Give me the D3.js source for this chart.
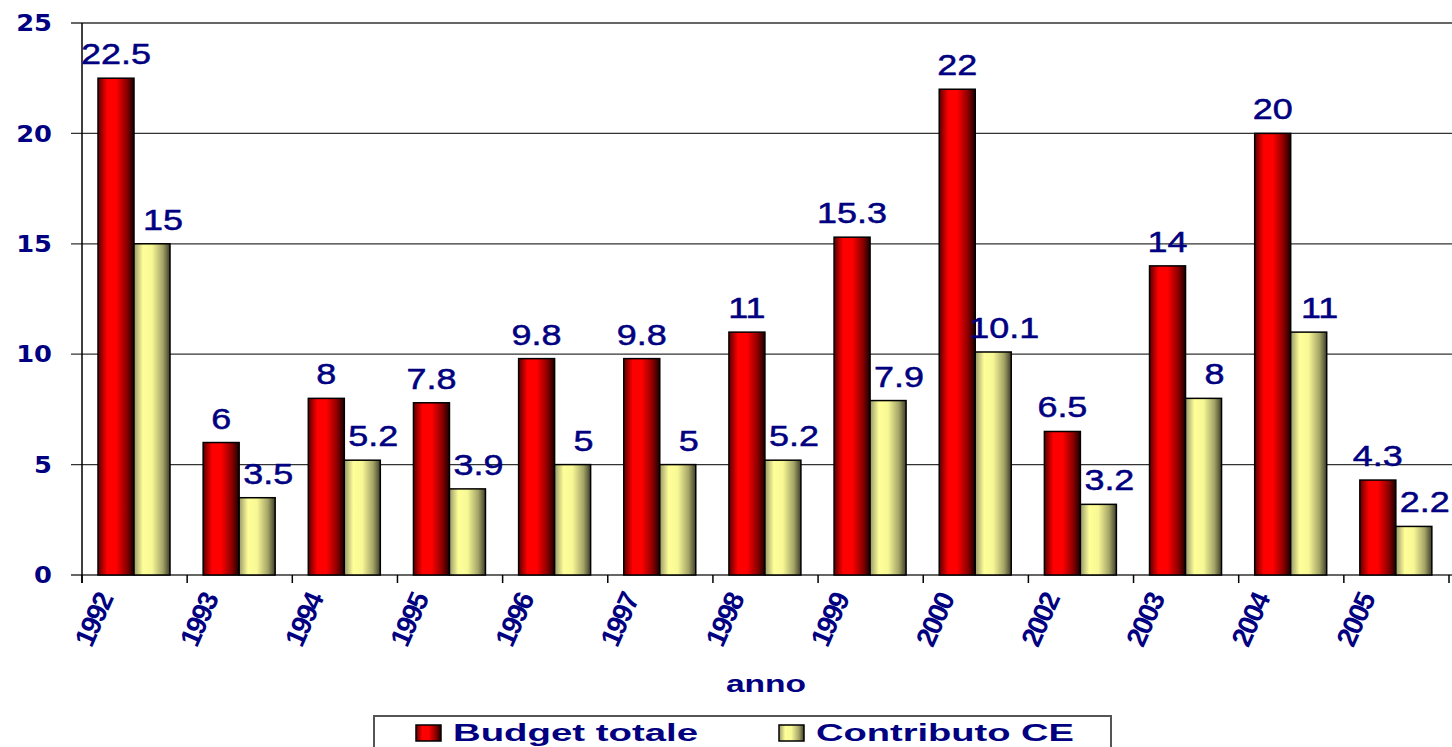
<!DOCTYPE html>
<html lang="it">
<head>
    <meta charset="UTF-8">
    <title>Budget totale e Contributo CE</title>
    <script src="https://d3js.org/d3.v7.min.js"></script>
    <style>
        body { margin: 0; background: #fff; }
        svg { display: block; }
        .lbl { fill: #000080; font-family: "Liberation Sans", Arial, sans-serif; }
    </style>
</head>
<body>
<svg width="1452" height="747"></svg>

<script>
    // data
    var years = ["1992", "1993", "1994", "1995", "1996", "1997", "1998", "1999", "2000", "2002", "2003", "2004", "2005"];
    var budgetTotale = [22.5, 6, 8, 7.8, 9.8, 9.8, 11, 15.3, 22, 6.5, 14, 20, 4.3];
    var contributoCE = [15, 3.5, 5.2, 3.9, 5, 5, 5.2, 7.9, 10.1, 3.2, 8, 11, 2.2];
    var seriesNames = ["Budget totale", "Contributo CE"];
    var yTicks = [0, 5, 10, 15, 20, 25];

    var svg = d3.select("svg");
    var navy = "#000080";

    var x = d3.scaleBand().domain(years).range([82, 1449]);
    var sub = d3.scaleBand().domain(seriesNames).range([16, 88]);
    var y = d3.scaleLinear().domain([0, 25]).range([575, 23]);

    // gradients for the cylinder-ish bars
    var defs = svg.append("defs");
    function grad(id, stops) {
        var g = defs.append("linearGradient").attr("id", id)
            .attr("x1", "0%").attr("x2", "100%").attr("y1", "0%").attr("y2", "0%");
        stops.forEach(function(s) {
            g.append("stop").attr("offset", s[0]).attr("stop-color", s[1]);
        });
    }
    grad("gRed", [["0%", "#5a0000"], ["25%", "#ff0000"], ["50%", "#ff0000"], ["80%", "#8a0000"], ["100%", "#1a0000"]]);
    grad("gYel", [["0%", "#9a9a6a"], ["25%", "#ffff99"], ["50%", "#f7f795"], ["80%", "#a4a468"], ["100%", "#3e3e28"]]);
    var fills = { "Budget totale": "url(#gRed)", "Contributo CE": "url(#gYel)" };

    // gridlines + y ticks
    svg.selectAll(".grid")
        .data(yTicks)
        .enter().append("line")
        .attr("x1", 71).attr("x2", 1452)
        .attr("y1", function(d) { return y(d); })
        .attr("y2", function(d) { return y(d); })
        .attr("stroke", "#333")
        .attr("stroke-width", 1.3);

    svg.selectAll(".ytick")
        .data(yTicks)
        .enter().append("text")
        .attr("transform", function(d) { return "translate(52," + y(d) + ") scale(1.12,1)"; })
        .attr("dy", "0.36em")
        .attr("text-anchor", "end")
        .attr("font-family", "DejaVu Sans, Verdana, sans-serif")
        .attr("font-weight", "bold")
        .attr("font-size", "23px")
        .attr("fill", navy)
        .text(function(d) { return d; });

    // y axis line
    svg.append("line")
        .attr("x1", 82).attr("x2", 82)
        .attr("y1", y(25)).attr("y2", y(0) + 8)
        .attr("stroke", "#000").attr("stroke-width", 1.5);

    // x ticks on category boundaries
    var bounds = years.map(function(d) { return x(d); }).concat([x.range()[1]]);
    svg.selectAll(".xtick")
        .data(bounds)
        .enter().append("line")
        .attr("x1", function(d) { return d; })
        .attr("x2", function(d) { return d; })
        .attr("y1", y(0)).attr("y2", y(0) + 8)
        .attr("stroke", "#000").attr("stroke-width", 1.5);

    // bars
    var rows = years.map(function(yr, i) {
        return { year: yr, vals: [
            { s: seriesNames[0], v: budgetTotale[i] },
            { s: seriesNames[1], v: contributoCE[i] }
        ] };
    });

    var grp = svg.selectAll(".yr")
        .data(rows)
        .enter().append("g")
        .attr("transform", function(d) { return "translate(" + x(d.year) + ",0)"; });

    grp.selectAll("rect")
        .data(function(d) { return d.vals; })
        .enter().append("rect")
        .attr("x", function(d) { return sub(d.s); })
        .attr("y", function(d) { return y(d.v); })
        .attr("width", sub.bandwidth())
        .attr("height", function(d) { return y(0) - y(d.v); })
        .attr("fill", function(d) { return fills[d.s]; })
        .attr("stroke", "#000")
        .attr("stroke-width", 1.5);

    // value labels
    grp.selectAll(".val")
        .data(function(d) { return d.vals; })
        .enter().append("text")
        .attr("class", "lbl")
        .attr("transform", function(d, i) {
            var cx = sub(d.s) + sub.bandwidth() / 2 + (i === 1 ? 11 : 0);
            return "translate(" + cx + "," + (y(d.v) - 14) + ") scale(1.24,1)";
        })
        .attr("text-anchor", "middle")
        .attr("font-size", "29px")
        .attr("stroke", navy)
        .attr("stroke-width", 0.5)
        .text(function(d) { return d.v; });

    // x labels, rotated
    svg.selectAll(".xlab")
        .data(years)
        .enter().append("text")
        .attr("class", "lbl")
        .attr("transform", function(d) {
            var cx = x(d) + x.bandwidth() / 2 - 21;
            return "translate(" + cx + ",599) rotate(-66)";
        })
        .attr("text-anchor", "end")
        .attr("font-weight", "bold")
        .attr("font-size", "28px")
        .attr("letter-spacing", "-2px")
        .text(function(d) { return d; });

    // axis title
    svg.append("text")
        .attr("class", "lbl")
        .attr("transform", "translate(766,692) scale(1.4,1)")
        .attr("text-anchor", "middle")
        .attr("font-weight", "bold")
        .attr("font-size", "24px")
        .text("anno");

    // legend
    svg.append("rect")
        .attr("x", 374).attr("y", 716)
        .attr("width", 737).attr("height", 60)
        .attr("fill", "#fff")
        .attr("stroke", "#555")
        .attr("stroke-width", 2);

    var legX = [416, 779];
    var legTextW = [245, 258];
    var leg = svg.selectAll(".leg")
        .data(seriesNames)
        .enter().append("g")
        .attr("transform", function(d, i) { return "translate(" + legX[i] + ",725)"; });

    leg.append("rect")
        .attr("width", 25).attr("height", 16)
        .attr("fill", function(d) { return fills[d]; })
        .attr("stroke", "#000")
        .attr("stroke-width", 1.5);

    leg.append("text")
        .attr("class", "lbl")
        .attr("x", 37).attr("y", 16)
        .attr("font-weight", "bold")
        .attr("font-size", "23px")
        .attr("textLength", function(d, i) { return legTextW[i]; })
        .attr("lengthAdjust", "spacingAndGlyphs")
        .text(function(d) { return d; });
</script>
</body>
</html>
